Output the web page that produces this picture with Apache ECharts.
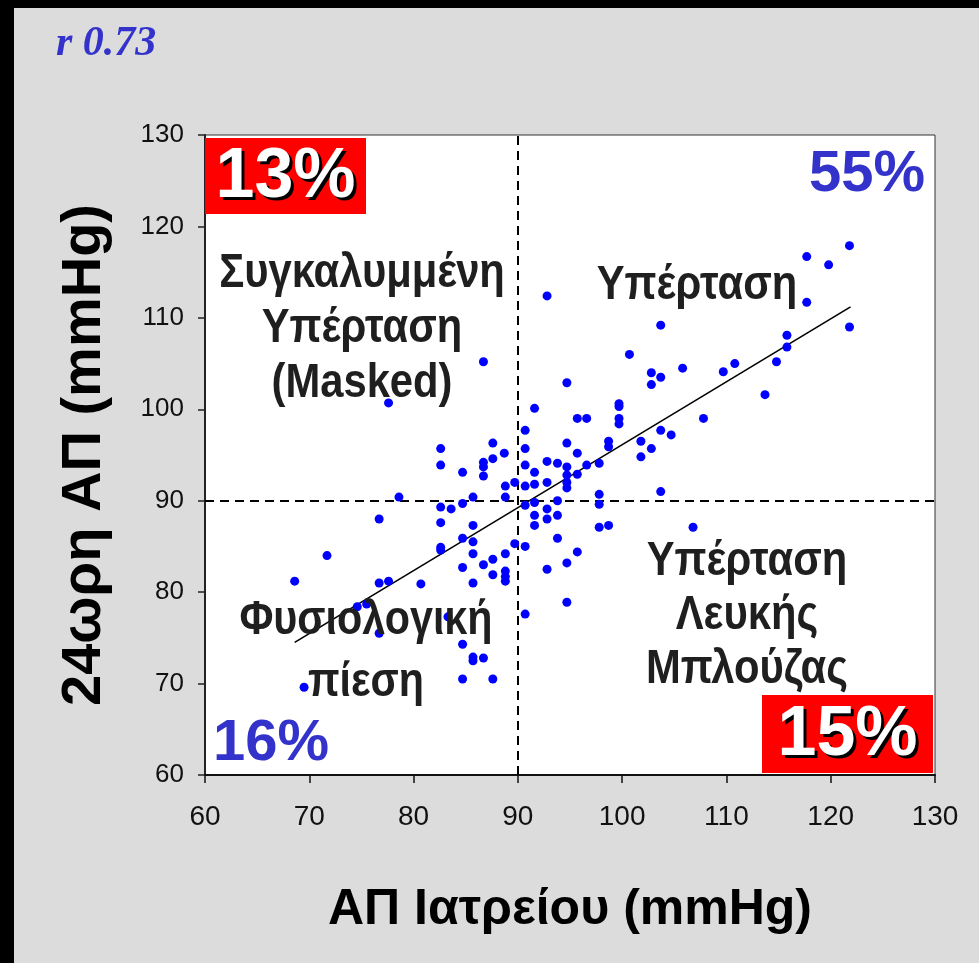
<!DOCTYPE html>
<html>
<head>
<meta charset="utf-8">
<script src="https://cdn.jsdelivr.net/npm/echarts@6/dist/echarts.min.js"></script>
<style>
html,body{margin:0;padding:0;background:#dcdcdc;}
#chart{width:979px;height:963px;}
</style>
</head>
<body>
<div id="chart"></div>
<script>
// ---- data ----
const officeBP = [121.8,117.7,119.8,117.7,121.8,103.7,92.8,86.7,77.6,100.7,115.8,115.8,114.8,110.8,109.7,105.8,102.8,103.7,102.8,113.7,
  94.7,91.6,99.7,99.7,95.7,96.6,99.7,99.7,107.8,103.7,104.7,90.7,98.7,98.7,101.8,102.8,101.8,82.6,87.6,88.7,
  90.7,94.7,95.7,82.6,84.7,86.7,86.7,87.6,86.7,88.8,89.7,88.8,78.6,85.7,90.7,91.6,92.8,93.8,94.7,94.7,
  94.7,94.7,90.7,91.6,92.8,95.7,96.6,97.8,90.7,91.6,92.8,93.8,91.6,91.6,92.8,93.8,93.8,97.8,97.8,97.8,
  98.7,103.7,106.8,95.7,94.7,92.8,94.7,90.7,90.7,89.7,82.6,83.6,84.7,76.7,82.6,85.7,84.7,85.7,82.6,82.6,
  71.7,85.7,88.8,87.6,86.7,84.7,88.8,88.8,88.8,87.6,85.7,80.7,68.6,76.7,77.6,74.6,75.5,76.7,83.3,84.7,
  85.7,85.7,86.7,84.7,87.6,69.5];
const ambulatoryBP = [117.9,116.7,115.8,111.7,109.0,109.2,112.4,105.2,100.7,106.0,108.1,106.8,105.2,105.0,104.1,104.5,104.0,103.5,102.7,101.6,
  102.9,100.1,100.6,100.3,99.0,99.0,99.0,98.4,99.0,97.7,97.2,97.7,96.5,95.9,96.5,95.7,94.8,95.7,96.3,95.2,
  95.7,96.3,95.2,93.9,93.1,94.2,93.7,94.6,92.7,91.6,92.0,90.4,90.4,90.4,93.9,93.1,94.3,94.1,93.7,92.8,
  92.0,91.4,91.6,91.8,92.0,92.9,93.9,94.1,89.5,89.8,89.1,90.0,88.4,87.3,88.0,88.4,85.9,90.7,89.6,87.1,
  87.3,91.0,87.1,84.4,83.2,82.5,78.9,77.6,85.0,85.3,89.3,89.1,89.7,88.0,87.6,87.3,85.9,85.5,84.9,84.6,
  84.0,84.2,84.2,83.6,83.0,82.7,82.3,81.7,81.2,81.9,81.0,80.9,81.2,81.0,81.2,78.4,78.7,75.5,77.3,74.3,
  72.9,72.5,72.8,70.5,70.5,69.6];
const fitLineX = [68.6, 121.9];
const fitLineY = [74.5, 111.2];
const cutoff = 90;
const axisMin = 60, axisMax = 130, axisStep = 10;
const shareLabels = ['13%', '55%', '16%', '15%'];
const quadrantNames = ['Συγκαλυμμένη\nΥπέρταση\n(Masked)', 'Υπέρταση', 'Φυσιολογική\nπίεση', 'Υπέρταση\nΛευκής\nΜπλούζας'];
const corrLabel = 'r 0.73';
const xTitle = 'ΑΠ Ιατρείου (mmHg)';
const yTitle = '24ωρη ΑΠ (mmHg)';

const scatterData = officeBP.map((x, i) => [x, ambulatoryBP[i]]);
const lineData = fitLineX.map((x, i) => [x, fitLineY[i]]);

const FF = '"Liberation Sans", Arial, sans-serif';
const chart = echarts.init(document.getElementById('chart'), null, {renderer: 'canvas'});

function quadText(text, x, y, size, lh, sx) {
  return {type: 'text', z: 50, x: x, y: y, scaleX: sx, scaleY: 1,
    style: {text: text, x: 0, y: 0, align: 'center', verticalAlign: 'middle',
    fontSize: size, fontWeight: 'bold', fontFamily: FF, fill: '#1f1f1f', lineHeight: lh}};
}
function redBox(text, x, y, w, h) {
  const cx = x + w / 2, cy = y + h / 2 + 2;
  const base = {text: text, align: 'center', verticalAlign: 'middle', fontSize: 70, fontWeight: 'bold', fontFamily: FF};
  return [
    {type: 'rect', z: 40, shape: {x: x, y: y, width: w, height: h}, style: {fill: '#ff0000'}},
    {type: 'text', z: 41, style: Object.assign({x: cx + 3, y: cy + 3, fill: '#000'}, base)},
    {type: 'text', z: 42, style: Object.assign({x: cx, y: cy, fill: '#fff'}, base)}
  ];
}
function blueText(text, x, y, align) {
  return {type: 'text', z: 41, style: {text: text, x: x, y: y, align: align, verticalAlign: 'middle',
    fontSize: 58, fontWeight: 'bold', fontFamily: FF, fill: '#3333cc'}};
}

const option = {
  backgroundColor: '#dcdcdc',
  animation: false,
  grid: {left: 205, top: 135, right: 44, bottom: 188, show: true, backgroundColor: '#fff', borderColor: '#333', borderWidth: 1},
  xAxis: {
    type: 'value', min: axisMin, max: axisMax, interval: axisStep,
    splitLine: {show: false},
    axisLine: {lineStyle: {color: '#111', width: 2}},
    axisTick: {show: true, length: 8, lineStyle: {color: '#111', width: 1.5}},
    axisLabel: {fontSize: 28, color: '#111', fontFamily: FF, margin: 28},
    name: xTitle, nameLocation: 'middle', nameGap: 110,
    nameTextStyle: {fontSize: 50, fontWeight: 'bold', color: '#000', fontFamily: FF,
      textShadowColor: '#fff', textShadowOffsetX: 2, textShadowOffsetY: 2, textShadowBlur: 0}
  },
  yAxis: {
    type: 'value', min: axisMin, max: axisMax, interval: axisStep,
    splitLine: {show: false},
    axisLine: {lineStyle: {color: '#222', width: 2}},
    axisTick: {show: true, length: 7, lineStyle: {color: '#222', width: 1.5}},
    axisLabel: {fontSize: 26, color: '#111', fontFamily: FF, margin: 21},
    name: yTitle, nameLocation: 'middle', nameGap: 92,
    nameTextStyle: {fontSize: 56, fontWeight: 'bold', color: '#000', fontFamily: FF,
      textShadowColor: '#fff', textShadowOffsetX: 2, textShadowOffsetY: 2, textShadowBlur: 0}
  },
  series: [
    {
      type: 'scatter', data: scatterData, symbol: 'circle', symbolSize: 9,
      itemStyle: {color: '#0000ff', opacity: 1}, z: 5,
      markLine: {
        silent: true, symbol: ['none', 'none'], label: {show: false},
        lineStyle: {color: '#000', width: 2, type: [9, 6], opacity: 1},
        data: [{xAxis: cutoff}, {yAxis: cutoff}]
      }
    },
    {
      type: 'line', data: lineData, symbol: 'none', z: 4,
      lineStyle: {color: '#000', width: 1.6}
    }
  ],
  graphic: [
    {type: 'rect', z: 100, shape: {x: 0, y: 0, width: 979, height: 8}, style: {fill: '#000'}},
    {type: 'rect', z: 100, shape: {x: 0, y: 0, width: 14, height: 963}, style: {fill: '#000'}},
    {type: 'text', z: 50, x: 56, y: 44, scaleX: 1, scaleY: 1,
      style: {text: corrLabel, x: 0, y: 0, align: 'left', verticalAlign: 'middle',
      fontSize: 42, fontWeight: 'bold', fontStyle: 'italic', fontFamily: '"Liberation Serif", "Times New Roman", serif', fill: '#3333cc'}},
    ...redBox(shareLabels[0], 205, 138, 161, 76),
    blueText(shareLabels[1], 925, 175, 'right'),
    blueText(shareLabels[2], 213, 744, 'left'),
    ...redBox(shareLabels[3], 762, 695, 171, 78),
    quadText(quadrantNames[0], 362, 329, 48, 55, 0.87),
    quadText(quadrantNames[1], 697, 286, 48, 55, 0.87),
    quadText(quadrantNames[2], 366, 652, 48, 62, 0.86),
    quadText(quadrantNames[3], 747, 616, 48, 54, 0.87)
  ]
};
chart.setOption(option);
</script>
</body>
</html>
